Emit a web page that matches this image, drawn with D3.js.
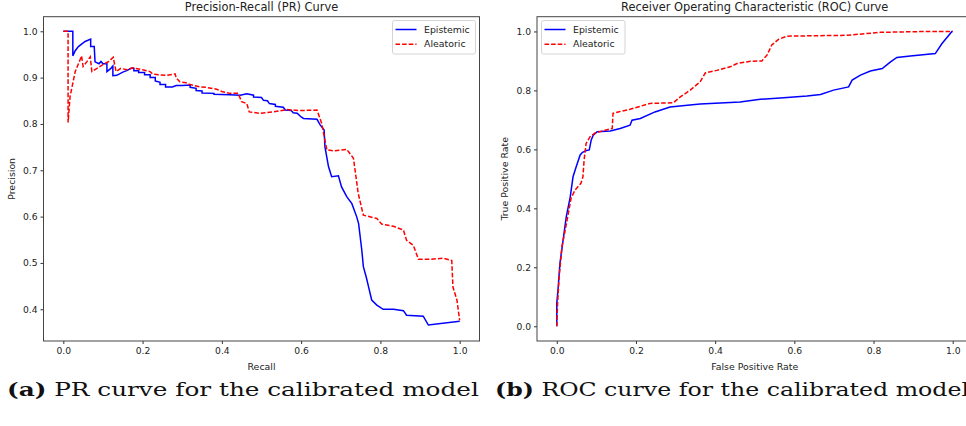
<!DOCTYPE html>
<html>
<head>
<meta charset="utf-8">
<script src="https://cdn.jsdelivr.net/npm/d3@7"></script>
<style>
  html, body { margin: 0; padding: 0; background: #fff; }
  svg { display: block; font-family: "DejaVu Sans", sans-serif; }
  .tick text { fill: #222; }
  .caption { font-family: "DejaVu Serif", serif; fill: #111; }
</style>
</head>
<body>
<div id="chart"></div>
<script>
// ---- data ----
// PR curve: [recall, precision]
const prEpistemic = [
  [0, 1.0], [0.024, 1.0], [0.024, 0.947], [0.03, 0.958], [0.038, 0.967], [0.055, 0.978],
  [0.069, 0.983], [0.069, 0.967], [0.078, 0.967], [0.08, 0.934], [0.09, 0.93], [0.095, 0.935],
  [0.1, 0.93], [0.11, 0.93], [0.11, 0.913], [0.12, 0.92], [0.125, 0.925], [0.125, 0.904],
  [0.135, 0.905], [0.15, 0.912], [0.16, 0.915], [0.171, 0.92], [0.178, 0.92], [0.178, 0.915],
  [0.19, 0.915], [0.19, 0.911], [0.205, 0.911], [0.205, 0.906], [0.219, 0.906], [0.219, 0.9],
  [0.232, 0.9], [0.232, 0.893], [0.244, 0.89], [0.244, 0.885], [0.258, 0.885], [0.258, 0.88],
  [0.275, 0.88], [0.285, 0.883], [0.3, 0.883], [0.32, 0.884], [0.32, 0.879], [0.335, 0.877],
  [0.335, 0.872], [0.35, 0.871], [0.35, 0.867], [0.38, 0.866], [0.38, 0.864], [0.42, 0.863],
  [0.446, 0.862], [0.463, 0.865], [0.48, 0.862], [0.48, 0.858], [0.5, 0.857], [0.505, 0.851],
  [0.515, 0.85], [0.52, 0.844], [0.535, 0.842], [0.535, 0.838], [0.555, 0.836], [0.56, 0.83],
  [0.575, 0.829], [0.58, 0.824], [0.59, 0.823], [0.6, 0.815], [0.606, 0.812], [0.64, 0.81],
  [0.648, 0.798], [0.658, 0.787], [0.66, 0.751], [0.669, 0.708], [0.677, 0.686], [0.694, 0.688],
  [0.702, 0.664], [0.715, 0.643], [0.728, 0.628], [0.74, 0.6], [0.745, 0.585], [0.753, 0.528],
  [0.757, 0.492], [0.765, 0.467], [0.771, 0.445], [0.778, 0.42], [0.791, 0.409], [0.807, 0.4],
  [0.833, 0.4], [0.858, 0.397], [0.866, 0.387], [0.908, 0.385], [0.921, 0.366], [1.0, 0.374]
];
const prAleatoric = [
  [0, 1.0], [0.012, 1.0], [0.012, 0.803], [0.017, 0.859], [0.03, 0.913], [0.042, 0.938],
  [0.046, 0.947], [0.05, 0.924], [0.06, 0.935], [0.068, 0.945], [0.072, 0.913], [0.085, 0.92],
  [0.1, 0.928], [0.115, 0.935], [0.126, 0.944], [0.133, 0.913], [0.145, 0.92], [0.16, 0.917],
  [0.175, 0.921], [0.2, 0.917], [0.219, 0.913], [0.225, 0.908], [0.24, 0.906], [0.26, 0.905],
  [0.282, 0.908], [0.285, 0.899], [0.294, 0.891], [0.31, 0.889], [0.32, 0.885], [0.345, 0.88],
  [0.36, 0.879], [0.387, 0.875], [0.4, 0.87], [0.42, 0.866], [0.441, 0.866], [0.45, 0.848],
  [0.463, 0.844], [0.469, 0.826], [0.496, 0.823], [0.53, 0.826], [0.564, 0.831], [0.597, 0.829],
  [0.64, 0.83], [0.652, 0.801], [0.66, 0.765], [0.665, 0.744], [0.681, 0.742], [0.715, 0.745],
  [0.732, 0.726], [0.744, 0.65], [0.757, 0.603], [0.791, 0.596], [0.803, 0.584], [0.833, 0.579],
  [0.858, 0.571], [0.866, 0.549], [0.883, 0.538], [0.896, 0.508], [0.925, 0.508], [0.959, 0.51],
  [0.98, 0.505], [0.983, 0.448], [0.993, 0.42], [1.0, 0.376]
];
// ROC curve: [false positive rate, true positive rate]
const rocEpistemic = [
  [0, 0], [0, 0.01], [0, 0.078], [0.003, 0.123], [0.008, 0.214], [0.016, 0.293], [0.024, 0.372],
  [0.034, 0.439], [0.041, 0.507], [0.049, 0.541], [0.059, 0.581], [0.065, 0.59], [0.075, 0.596],
  [0.082, 0.598], [0.087, 0.632], [0.092, 0.648], [0.102, 0.66], [0.135, 0.662], [0.16, 0.671],
  [0.185, 0.682], [0.19, 0.699], [0.211, 0.705], [0.248, 0.727], [0.286, 0.744], [0.33, 0.75],
  [0.362, 0.754], [0.413, 0.757], [0.463, 0.761], [0.514, 0.77], [0.573, 0.775], [0.632, 0.781],
  [0.666, 0.786], [0.699, 0.801], [0.737, 0.812], [0.746, 0.835], [0.767, 0.852], [0.792, 0.866],
  [0.822, 0.874], [0.843, 0.897], [0.859, 0.912], [0.893, 0.917], [0.956, 0.925], [0.973, 0.959],
  [0.998, 1.0], [1, 1]
];
const rocAleatoric = [
  [0, 0], [0.002, 0.078], [0.006, 0.168], [0.013, 0.27], [0.018, 0.304], [0.026, 0.36],
  [0.036, 0.434], [0.046, 0.462], [0.061, 0.485], [0.066, 0.507], [0.069, 0.564], [0.074, 0.62],
  [0.084, 0.643], [0.097, 0.656], [0.122, 0.665], [0.14, 0.671], [0.142, 0.722], [0.155, 0.727],
  [0.185, 0.736], [0.236, 0.756], [0.294, 0.758], [0.312, 0.778], [0.337, 0.801], [0.362, 0.829],
  [0.375, 0.859], [0.404, 0.868], [0.438, 0.88], [0.455, 0.891], [0.489, 0.899], [0.518, 0.9],
  [0.531, 0.92], [0.543, 0.954], [0.56, 0.973], [0.581, 0.984], [0.733, 0.987], [0.817, 0.997],
  [0.935, 1.0], [1.0, 1.0]
];

const xTicks = [0, 0.2, 0.4, 0.6, 0.8, 1.0];
const prYTicks = [0.4, 0.5, 0.6, 0.7, 0.8, 0.9, 1.0];
const rocYTicks = [0, 0.2, 0.4, 0.6, 0.8, 1.0];
const seriesNames = ["Epistemic", "Aleatoric"];
const captions = [["(a)", "PR curve for the calibrated model"], ["(b)", "ROC curve for the calibrated model"]];

// ---- drawing ----
const fullW = 966, fullH = 426;
const svg = d3.select("#chart").append("svg").attr("width", fullW).attr("height", fullH);

const lineStyles = [
  { color: "#0000ff", dash: null },
  { color: "#ff0000", dash: "4.6,2" }
];

function panel(opts) {
  const { left, right, top, bottom } = opts.box;
  const x = d3.scaleLinear().domain(opts.xDomain).range([left, right]);
  const y = d3.scaleLinear().domain(opts.yDomain).range([bottom, top]);
  const g = svg.append("g");

  const line = d3.line().x(d => x(d[0])).y(d => y(d[1]));
  opts.series.forEach((s, i) => {
    g.append("path")
      .datum(s)
      .attr("fill", "none")
      .attr("stroke", lineStyles[i].color)
      .attr("stroke-width", 1.5)
      .attr("stroke-dasharray", lineStyles[i].dash)
      .attr("d", line);
  });

  const xAxis = g.append("g").attr("transform", `translate(0,${bottom})`)
    .call(d3.axisBottom(x).tickValues(xTicks).tickFormat(d3.format(".1f")).tickSize(3).tickPadding(3));
  const yAxis = g.append("g").attr("transform", `translate(${left},0)`)
    .call(d3.axisLeft(y).tickValues(opts.yTicks).tickFormat(d3.format(".1f")).tickSize(3).tickPadding(3));
  [xAxis, yAxis].forEach(a => {
    a.select(".domain").remove();
    a.selectAll(".tick line").attr("stroke", "#333");
    a.selectAll(".tick text").style("font-size", "9.2px").style("font-family", "DejaVu Sans");
  });

  // frame (all four spines)
  g.append("rect")
    .attr("x", left).attr("y", top)
    .attr("width", right - left).attr("height", bottom - top)
    .attr("fill", "none").attr("stroke", "#444").attr("stroke-width", 1);

  const cx = (left + right) / 2;
  g.append("text").attr("x", cx).attr("y", top - 5.5)
    .attr("text-anchor", "middle").style("font-size", "11.4px").attr("fill", "#222")
    .text(opts.title);
  g.append("text").attr("x", cx).attr("y", bottom + 28.5)
    .attr("text-anchor", "middle").style("font-size", "9.4px").attr("fill", "#222")
    .text(opts.xLabel);
  g.append("text")
    .attr("transform", `translate(${opts.yLabelX},${(top + bottom) / 2}) rotate(-90)`)
    .attr("text-anchor", "middle").style("font-size", "9.4px").attr("fill", "#222")
    .text(opts.yLabel);

  // legend
  const L = opts.legend;
  const lg = g.append("g").attr("transform", `translate(${L.x},${L.y})`);
  lg.append("rect").attr("width", L.w).attr("height", 33.5).attr("rx", 2)
    .attr("fill", "#fff").attr("fill-opacity", 0.8).attr("stroke", "#d4d4d4").attr("stroke-width", 1);
  seriesNames.forEach((name, i) => {
    const yy = 9 + i * 14.7;
    lg.append("line").attr("x1", 3).attr("x2", 24).attr("y1", yy).attr("y2", yy)
      .attr("stroke", lineStyles[i].color).attr("stroke-width", 1.5)
      .attr("stroke-dasharray", lineStyles[i].dash);
    lg.append("text").attr("x", 31.5).attr("y", yy).attr("dy", "0.35em")
      .style("font-size", "9.4px").attr("fill", "#222").text(name);
  });
}

panel({
  box: { left: 43.5, right: 479.5, top: 16.7, bottom: 341 },
  xDomain: [-0.05, 1.05], yDomain: [0.3315, 1.0315],
  yTicks: prYTicks, series: [prEpistemic, prAleatoric],
  title: "Precision-Recall (PR) Curve", xLabel: "Recall", yLabel: "Precision", yLabelX: 15,
  legend: { x: 392.5, y: 20.5, w: 83 }
});

panel({
  box: { left: 537, right: 972.5, top: 16.7, bottom: 341 },
  xDomain: [-0.05, 1.05], yDomain: [-0.05, 1.05],
  yTicks: rocYTicks, series: [rocEpistemic, rocAleatoric],
  title: "Receiver Operating Characteristic (ROC) Curve", xLabel: "False Positive Rate",
  yLabel: "True Positive Rate", yLabelX: 508,
  legend: { x: 541.5, y: 20.5, w: 83.5 }
});

// captions: the right one runs past the page edge, as in the source figure
const capG = svg.append("g");
const capNodes = captions.map(c => {
  const t = capG.append("text").attr("class", "caption")
    .attr("x", 0).attr("y", 0).style("font-size", "18px");
  t.append("tspan").style("font-weight", "bold").text(c[0]);
  t.append("tspan").text("\u00a0" + c[1]);
  return t;
});
const lenA = capNodes[0].node().getComputedTextLength();
const lenB = capNodes[1].node().getComputedTextLength();
capNodes[0].attr("transform", `translate(7,396) scale(${472 / lenA},1)`);
capNodes[1].attr("transform", `translate(495,396) scale(${474 / lenB},1)`);
</script>
</body>
</html>
